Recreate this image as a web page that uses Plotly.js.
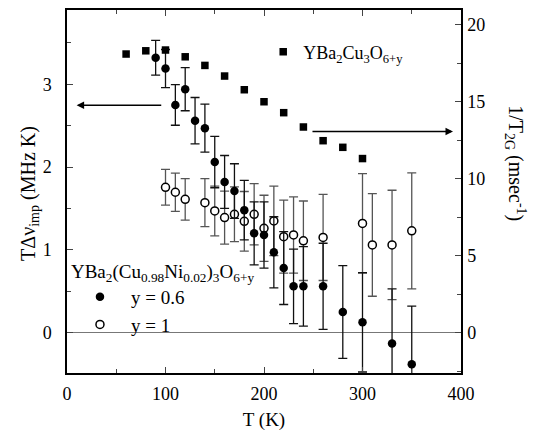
<!DOCTYPE html>
<html><head><meta charset="utf-8">
<script src="https://cdn.plot.ly/plotly-3.0.1.min.js"></script>
<style>
body{margin:0;background:#fff}
#c{width:537px;height:434px}
</style>
</head><body><div id="c"></div>
<script>
// YBa2Cu3O6+y : 1/T2G (right axis)
const sqT = [60,80,100,120,140,160,180,200,220,240,260,280,300];
const sqV = [18.10,18.31,18.36,17.92,17.36,16.67,15.78,15.00,14.29,13.36,12.47,12.04,11.31];
// y = 0.6 filled circles (left axis)
const fT  = [90,100,110,120,130,140,150,160,170,180,190,200,210,220,230,240,260,280,300,330,350];
const fV  = [3.32,3.19,2.75,2.94,2.56,2.47,2.06,1.82,1.71,1.48,1.20,1.18,0.97,0.78,0.56,0.56,0.56,0.25,0.125,-0.13,-0.38];
const fE  = [0.21,0.23,0.245,0.26,0.28,0.29,0.31,0.32,0.33,0.36,0.38,0.40,0.43,0.44,0.45,0.48,0.52,0.56,0.60,0.66,0.70];
// y = 1 open circles (left axis)
const oT  = [100,110,120,140,150,160,170,180,190,200,210,220,230,240,260,300,310,330,350];
const oV  = [1.756,1.696,1.61,1.57,1.47,1.39,1.43,1.345,1.43,1.26,1.35,1.16,1.18,1.11,1.15,1.32,1.06,1.06,1.23];
const oE  = [0.215,0.23,0.25,0.29,0.30,0.32,0.33,0.36,0.37,0.40,0.42,0.44,0.46,0.48,0.52,0.60,0.62,0.66,0.70];

const xTicks = [0,100,200,300,400];
const yTicks = [0,1,2,3];
const y2Ticks = [0,5,10,15,20];

const FONT = 'Liberation Serif';

const traces = [
  {x:oT, y:oV, type:'scatter', mode:'markers', name:'y = 1', legend:'legend',
   marker:{symbol:'circle', size:8, color:'#fff', line:{color:'#000', width:1.5}},
   error_y:{type:'data', array:oE, visible:true, color:'#555', thickness:1.3, width:4.5}},
  {x:fT, y:fV, type:'scatter', mode:'markers', name:'y = 0.6', legend:'legend',
   marker:{symbol:'circle', size:8.5, color:'#000'},
   error_y:{type:'data', array:fE, visible:true, color:'#111', thickness:1.3, width:4.5}},
  {x:sqT, y:sqV, type:'scatter', mode:'markers', yaxis:'y2', name:'YBa<sub>2</sub>Cu<sub>3</sub>O<sub>6+y</sub>', legend:'legend2',
   marker:{symbol:'square', size:7.5, color:'#000'}}
];

const layout = {
  width:537, height:434,
  margin:{l:67, r:76, t:10, b:61},
  paper_bgcolor:'#fff', plot_bgcolor:'#fff',
  font:{family:FONT, size:18, color:'#000'},
  showlegend:true,
  legend:{x:0.005, y:0.33, xanchor:'left', yanchor:'top', bgcolor:'rgba(0,0,0,0)',
          font:{family:FONT, size:19, color:'#000'}, traceorder:'reversed', itemwidth:52,
          title:{text:'YBa<sub>2</sub>(Cu<sub>0.98</sub>Ni<sub>0.02</sub>)<sub>3</sub>O<sub>6+y</sub>', font:{family:FONT, size:19, color:'#000'}, side:'top'}},
  legend2:{x:0.498, y:0.935, xanchor:'left', yanchor:'top', bgcolor:'rgba(0,0,0,0)',
          font:{family:FONT, size:18, color:'#000'}, itemwidth:30},
  xaxis:{range:[0,400], tickvals:xTicks, ticks:'inside', ticklen:6, tickwidth:1.2,
         minor:{dtick:50, ticks:'inside', ticklen:4, tickwidth:1.2}, showgrid:false, zeroline:false,
         showline:true, linecolor:'#000', linewidth:1.5, mirror:'ticks',
         ticklabelstandoff:4, tickfont:{family:FONT, size:18, color:'#000'},
         title:{text:'T (K)', font:{family:FONT, size:19, color:'#000'}, standoff:9}},
  yaxis:{range:[-0.487,3.897], tickvals:yTicks, ticks:'inside', ticklen:6, tickwidth:1.2,
         minor:{dtick:0.5, ticks:'inside', ticklen:4, tickwidth:1.2}, showgrid:false,
         zeroline:true, zerolinecolor:'#777', zerolinewidth:1.2,
         showline:true, linecolor:'#000', linewidth:1.5, mirror:false,
         ticklabelstandoff:10, tickfont:{family:FONT, size:18, color:'#000'}},
  yaxis2:{range:[-2.62,20.96], tickvals:y2Ticks, overlaying:'y', side:'right', ticks:'inside', ticklen:6, tickwidth:1.2,
         minor:{dtick:2.5, ticks:'inside', ticklen:4, tickwidth:1.2}, showgrid:false, zeroline:false,
         showline:true, linecolor:'#000', linewidth:1.5,
         ticklabelstandoff:1, tickfont:{family:FONT, size:18, color:'#000'}},
  annotations:[
    {xref:'paper', yref:'paper', x:-0.094, y:0.496, text:'TΔν<sub>imp</sub> (MHz K)', textangle:-90,
     showarrow:false, font:{family:FONT, size:20, color:'#000'}, xanchor:'center', yanchor:'middle'},
    {xref:'paper', yref:'paper', x:1.137, y:0.578, text:'1/T<sub>2G</sub> (msec<sup>-1</sup>)', textangle:90,
     showarrow:false, font:{family:FONT, size:20, color:'#000'}, xanchor:'center', yanchor:'middle'},
    {xref:'x', yref:'y', axref:'x', ayref:'y', x:9.8, y:2.746, ax:97.2, ay:2.746, text:'',
     showarrow:true, arrowhead:2, arrowsize:1, arrowwidth:1.5, arrowcolor:'#000'},
    {xref:'x', yref:'y', axref:'x', ayref:'y', x:391.9, y:2.43, ax:247.7, ay:2.43, text:'',
     showarrow:true, arrowhead:2, arrowsize:1, arrowwidth:1.5, arrowcolor:'#000'}
  ]
};

Plotly.newPlot('c', traces, layout, {displayModeBar:false});
</script></body></html>
